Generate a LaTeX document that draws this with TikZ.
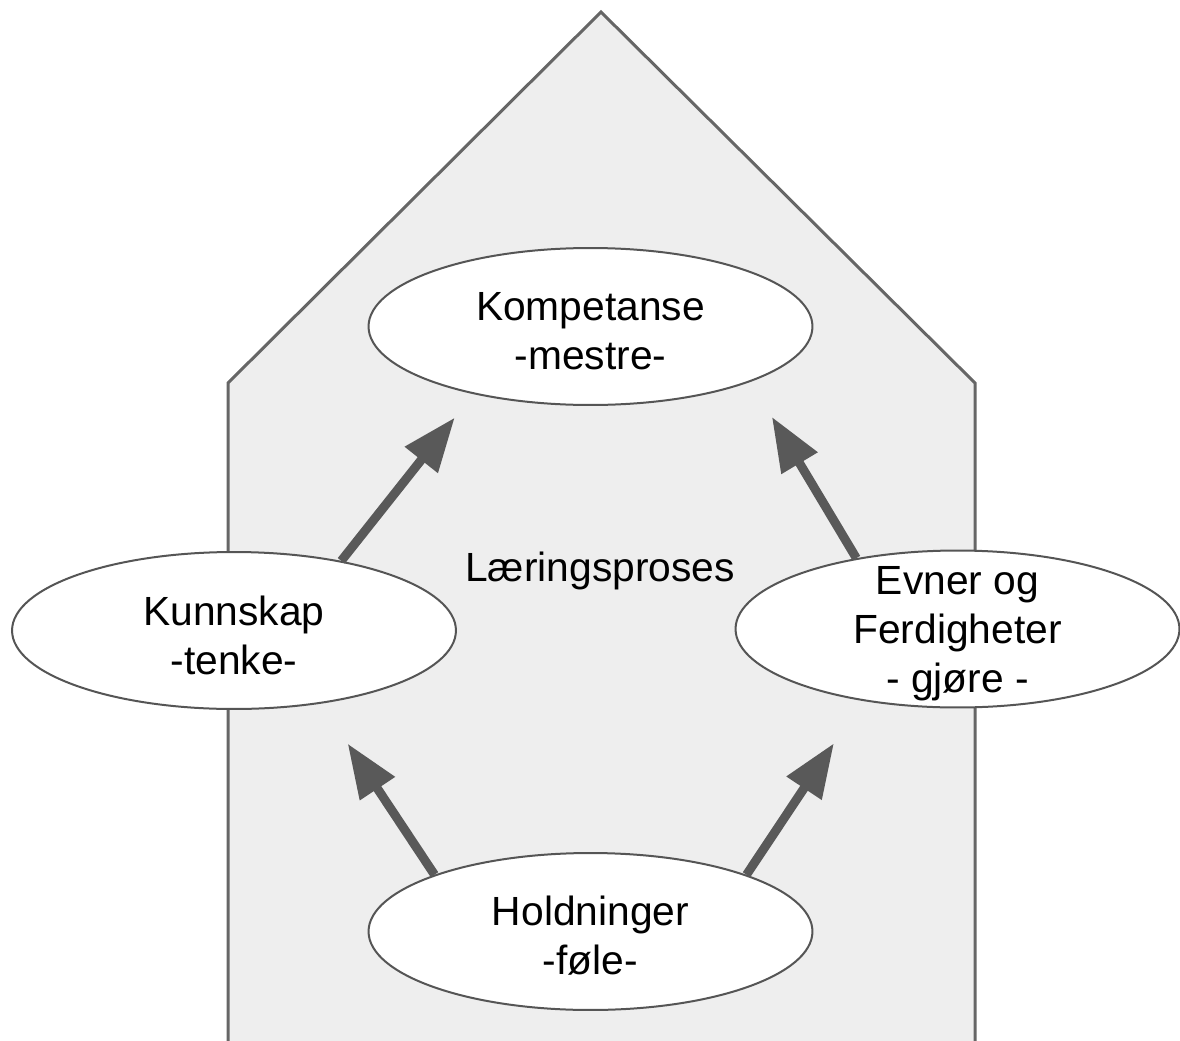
\documentclass[tikz,border=0pt]{standalone}
\usepackage{fontspec}
\setmainfont{Liberation Sans}
\usetikzlibrary{shapes.geometric,arrows.meta}
\definecolor{houseline}{HTML}{666666}
\definecolor{housefill}{HTML}{EEEEEE}
\definecolor{ovalline}{HTML}{555555}
\definecolor{arrowgray}{HTML}{595959}
\tikzset{
  oval/.style={ellipse, draw=ovalline, line width=0.04cm, fill=white,
    minimum width=8.88cm, minimum height=3.14cm, inner sep=0pt},
  txt/.style={align=center, inner sep=0pt, font=\fontsize{23.2}{27.9}\selectfont},
  ovaltxt/.style={txt, yshift=-0.09cm},
  arr/.style={-{Triangle[length=1.08cm,width=0.8cm]}, line width=0.18cm, draw=arrowgray},
}
\begin{document}
\begin{tikzpicture}[x=0.02cm,y=-0.02cm]
  \useasboundingbox (0,0) rectangle (1180,1041);
  % house
  \fill[housefill] (228,1041) -- (228,383) -- (601,12) -- (975,383) -- (975,1041) -- cycle;
  \draw[houseline, line width=0.06cm]
    (228,1041) -- (228,383) -- (601,12) -- (975,383) -- (975,1041);
  \node[oval, label={[ovaltxt]center:Kompetanse\\-mestre-}] (komp) at (590.5,326.5) {};
  \node[oval, label={[ovaltxt]center:Kunnskap\\-tenke-}] (kun) at (234,630.5) {};
  \node[oval, label={[ovaltxt]center:Evner og\\Ferdigheter\\- gjøre -}] (evn) at (957.5,629) {};
  \node[oval, label={[ovaltxt]center:Holdninger\\-føle-}] (hol) at (590.5,931.5) {};
  \node[txt] (lp) at (600,571) {Læringsproses};
  \begin{scope}[arr]
    \draw[shorten >=0.6cm] (kun.33) -- (komp.210);
    \draw[shorten >=0.82cm] (evn.145) -- (komp.341);
    \draw[shorten >=0.96cm] (hol.160) -- (kun.320);
    \draw[shorten >=1.02cm] (hol.20) -- (evn.217);
  \end{scope}
\end{tikzpicture}
\end{document}
